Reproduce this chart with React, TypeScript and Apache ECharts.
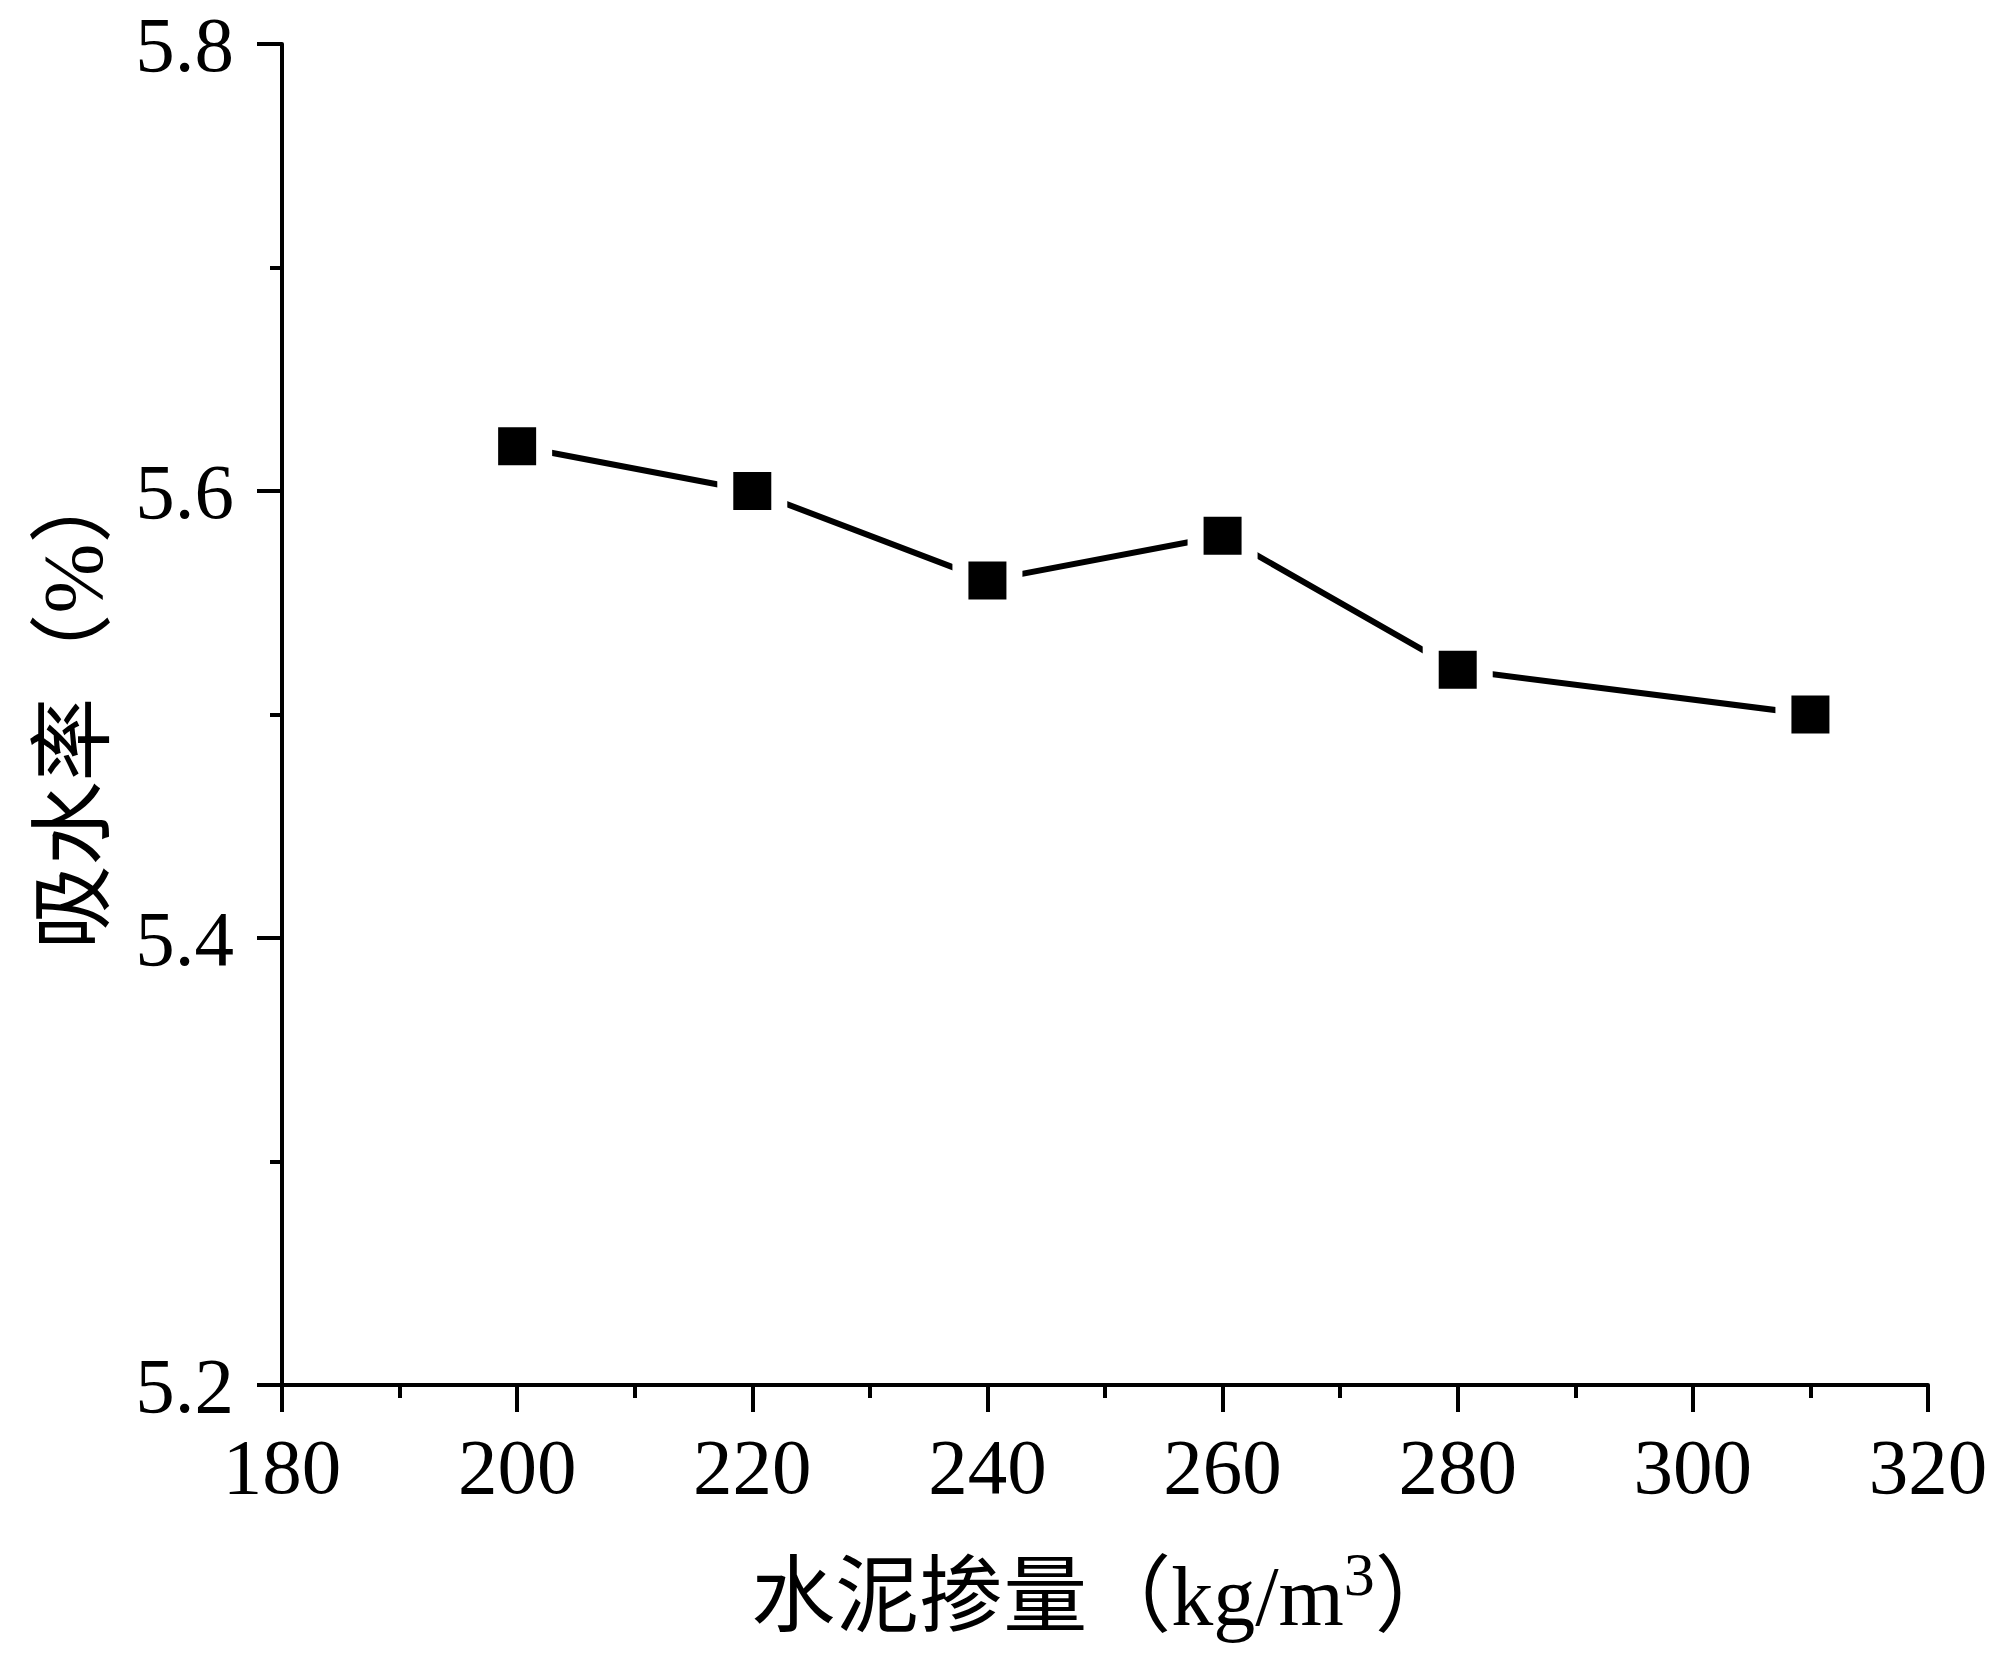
import React, { useEffect, useRef } from "react";
import * as echarts from "echarts";

const cementContent = [200, 220, 240, 260, 280, 310];
const waterAbsorption = [5.62, 5.6, 5.56, 5.58, 5.52, 5.5];

const FONT = "'Liberation Serif', 'Times New Roman', 'Noto Sans CJK SC', serif";

export default function App() {
  const ref = useRef<HTMLDivElement>(null);
  useEffect(() => {
    document.body.style.margin = "0";
    const chart = echarts.init(ref.current!, undefined, { renderer: "svg" });
    chart.setOption({
      animation: false,
      backgroundColor: "#ffffff",
      grid: { left: 282, top: 44, right: 72, bottom: 277 },
      xAxis: {
        type: "value",
        min: 180,
        max: 320,
        interval: 20,
        name: "{a|水泥掺量（kg/m}{s|3}{a|）}",
        nameLocation: "middle",
        nameGap: 158,
        nameTextStyle: {
          rich: {
            a: { fontFamily: FONT, fontSize: 84, color: "#000", verticalAlign: "bottom", lineHeight: 96 },
            s: { fontFamily: FONT, fontSize: 62, color: "#000", verticalAlign: "top", lineHeight: 96, padding: [0, 0, 40, 0] },
          },
        },
        axisLine: { lineStyle: { color: "#000", width: 4 } },
        axisTick: { length: 27, lineStyle: { color: "#000", width: 4 } },
        minorTick: { show: true, splitNumber: 2, length: 13, lineStyle: { color: "#000", width: 4 } },
        axisLabel: { fontFamily: FONT, fontSize: 79, color: "#000", margin: 42 },
        splitLine: { show: false },
      },
      yAxis: {
        type: "value",
        min: 5.2,
        max: 5.8,
        interval: 0.2,
        name: "吸水率（%）",
        nameLocation: "middle",
        nameGap: 167,
        nameTextStyle: { fontFamily: FONT, fontSize: 84, color: "#000", padding: [0, 0, 0, 20] },
        axisLine: { show: true, lineStyle: { color: "#000", width: 4 } },
        axisTick: { show: true, length: 25, lineStyle: { color: "#000", width: 4 } },
        minorTick: { show: true, splitNumber: 2, length: 12, lineStyle: { color: "#000", width: 4 } },
        axisLabel: {
          fontFamily: FONT,
          fontSize: 79,
          color: "#000",
          margin: 48,
          formatter: (v: number) => v.toFixed(1),
        },
        splitLine: { show: false },
      },
      series: [
        {
          type: "line",
          data: cementContent.map((x, i) => [x, waterAbsorption[i]]),
          symbol: "rect",
          symbolSize: 54,
          lineStyle: { color: "#000", width: 6 },
          itemStyle: { color: "#000", borderColor: "#fff", borderWidth: 16 },
          z: 3,
        },
      ],
    });
    return () => chart.dispose();
  }, []);
  return <div ref={ref} style={{ width: 2000, height: 1662 }} />;
}
